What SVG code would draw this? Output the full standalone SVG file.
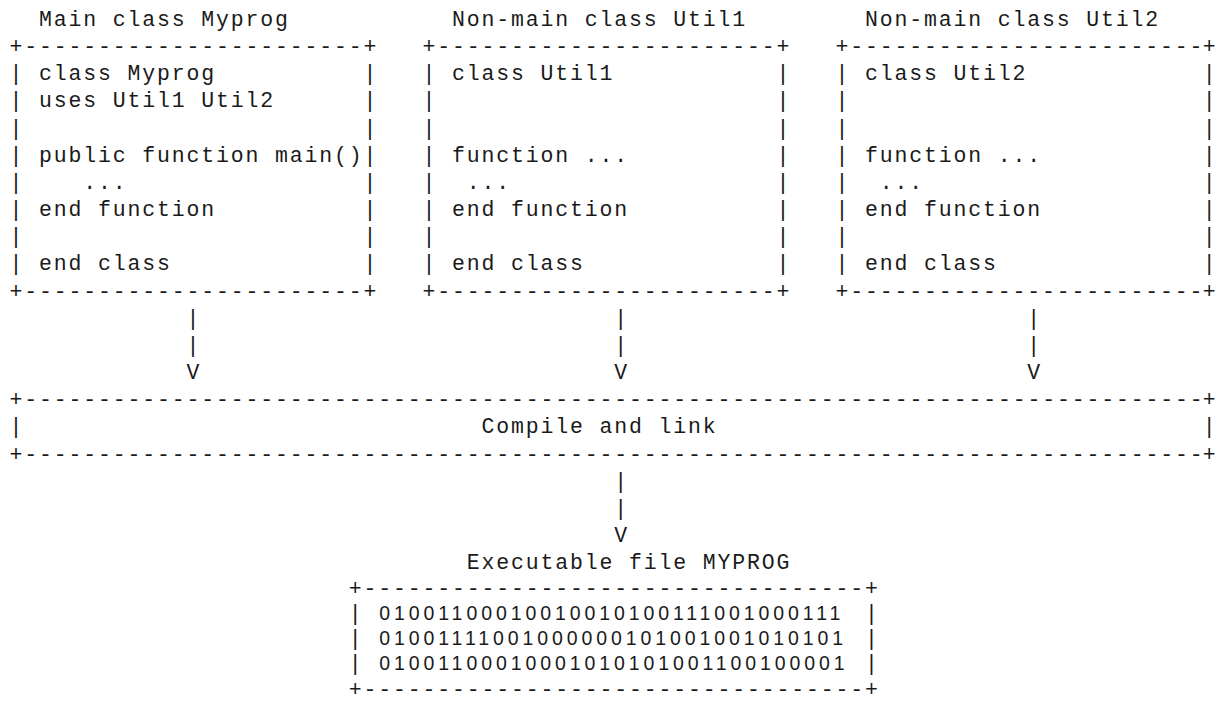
<svg xmlns="http://www.w3.org/2000/svg" width="1216" height="702" viewBox="0 0 1216 702">
  <style>
    /* character grid: 14.75px per column, 27.16px per row */
    .t { font-family: "Liberation Mono", "DejaVu Sans Mono", monospace; font-size: 21.5px; letter-spacing: 1.85px; fill: #1a1a1a; white-space: pre; }
    /* single glyphs on the right margin, no trailing spacing */
    .c { font-family: "Liberation Mono", "DejaVu Sans Mono", monospace; font-size: 21.5px; fill: #1a1a1a; }
    .d { font-family: "Liberation Sans", Arial, sans-serif; font-size: 19.5px; letter-spacing: 3.91px; fill: #1a1a1a; white-space: pre; }
  </style>
  <rect width="1216" height="702" fill="#ffffff"/>

  <!-- Main class box -->
  <g id="node-myprog">
    <text class="t" x="39" y="26">Main class Myprog</text>
    <text class="t" x="9.5" y="53.16">+-----------------------+</text>
    <text class="c">
      <tspan x="9.5" y="80.32">|</tspan><tspan x="363.5" y="80.32">|</tspan>
      <tspan x="9.5" y="107.48">|</tspan><tspan x="363.5" y="107.48">|</tspan>
      <tspan x="9.5" y="134.64">|</tspan><tspan x="363.5" y="134.64">|</tspan>
      <tspan x="9.5" y="161.8">|</tspan><tspan x="363.5" y="161.8">|</tspan>
      <tspan x="9.5" y="188.96">|</tspan><tspan x="363.5" y="188.96">|</tspan>
      <tspan x="9.5" y="216.12">|</tspan><tspan x="363.5" y="216.12">|</tspan>
      <tspan x="9.5" y="243.28">|</tspan><tspan x="363.5" y="243.28">|</tspan>
      <tspan x="9.5" y="270.44">|</tspan><tspan x="363.5" y="270.44">|</tspan>
    </text>
    <text class="t" x="39" y="80.32">class Myprog</text>
    <text class="t" x="39" y="107.48">uses Util1 Util2</text>
    <text class="t" x="39" y="161.8">public function main()</text>
    <text class="t" x="83.25" y="188.96">...</text>
    <text class="t" x="39" y="216.12">end function</text>
    <text class="t" x="39" y="270.44">end class</text>
    <text class="t" x="9.5" y="297.6">+-----------------------+</text>
  </g>

  <!-- Util1 box -->
  <g id="node-util1">
    <text class="t" x="452" y="26">Non-main class Util1</text>
    <text class="t" x="422.5" y="53.16">+-----------------------+</text>
    <text class="c">
      <tspan x="422.5" y="80.32">|</tspan><tspan x="776.5" y="80.32">|</tspan>
      <tspan x="422.5" y="107.48">|</tspan><tspan x="776.5" y="107.48">|</tspan>
      <tspan x="422.5" y="134.64">|</tspan><tspan x="776.5" y="134.64">|</tspan>
      <tspan x="422.5" y="161.8">|</tspan><tspan x="776.5" y="161.8">|</tspan>
      <tspan x="422.5" y="188.96">|</tspan><tspan x="776.5" y="188.96">|</tspan>
      <tspan x="422.5" y="216.12">|</tspan><tspan x="776.5" y="216.12">|</tspan>
      <tspan x="422.5" y="243.28">|</tspan><tspan x="776.5" y="243.28">|</tspan>
      <tspan x="422.5" y="270.44">|</tspan><tspan x="776.5" y="270.44">|</tspan>
    </text>
    <text class="t" x="452" y="80.32">class Util1</text>
    <text class="t" x="452" y="161.8">function ...</text>
    <text class="t" x="466.75" y="188.96">...</text>
    <text class="t" x="452" y="216.12">end function</text>
    <text class="t" x="452" y="270.44">end class</text>
    <text class="t" x="422.5" y="297.6">+-----------------------+</text>
  </g>

  <!-- Util2 box (right edge sits on the page margin) -->
  <g id="node-util2">
    <text class="t" x="865" y="26">Non-main class Util2</text>
    <text class="t" x="835.5" y="53.16">+------------------------</text>
    <text class="c" x="1202.75" y="53.16">+</text>
    <text class="c">
      <tspan x="835.5" y="80.32">|</tspan><tspan x="1202.75" y="80.32">|</tspan>
      <tspan x="835.5" y="107.48">|</tspan><tspan x="1202.75" y="107.48">|</tspan>
      <tspan x="835.5" y="134.64">|</tspan><tspan x="1202.75" y="134.64">|</tspan>
      <tspan x="835.5" y="161.8">|</tspan><tspan x="1202.75" y="161.8">|</tspan>
      <tspan x="835.5" y="188.96">|</tspan><tspan x="1202.75" y="188.96">|</tspan>
      <tspan x="835.5" y="216.12">|</tspan><tspan x="1202.75" y="216.12">|</tspan>
      <tspan x="835.5" y="243.28">|</tspan><tspan x="1202.75" y="243.28">|</tspan>
      <tspan x="835.5" y="270.44">|</tspan><tspan x="1202.75" y="270.44">|</tspan>
    </text>
    <text class="t" x="865" y="80.32">class Util2</text>
    <text class="t" x="865" y="161.8">function ...</text>
    <text class="t" x="879.75" y="188.96">...</text>
    <text class="t" x="865" y="216.12">end function</text>
    <text class="t" x="865" y="270.44">end class</text>
    <text class="t" x="835.5" y="297.6">+------------------------</text>
    <text class="c" x="1202.75" y="297.6">+</text>
  </g>

  <!-- Compile and link stage -->
  <g id="node-compile">
    <text class="t" x="9.5" y="406.24">+--------------------------------------------------------------------------------</text>
    <text class="c" x="1202.75" y="406.24">+</text>
    <text class="c"><tspan x="9.5" y="433.4">|</tspan><tspan x="1202.75" y="433.4">|</tspan></text>
    <text class="t" x="481.5" y="433.4">Compile and link</text>
    <text class="t" x="9.5" y="460.56">+--------------------------------------------------------------------------------</text>
    <text class="c" x="1202.75" y="460.56">+</text>
  </g>

  <!-- Executable output (rows slightly tighter to stay on the page) -->
  <g id="node-executable">
    <text class="t" x="466.75" y="569.2">Executable file MYPROG</text>
    <text class="t" x="348.75" y="594.5">+----------------------------------+</text>
    <text class="c">
      <tspan x="348.75" y="619.7">|</tspan><tspan x="865" y="619.7">|</tspan>
      <tspan x="348.75" y="645">|</tspan><tspan x="865" y="645">|</tspan>
      <tspan x="348.75" y="670.2">|</tspan><tspan x="865" y="670.2">|</tspan>
    </text>
    <text class="d" x="379.3" y="619.7">01001100010010010100111001000111</text>
    <text class="d" x="379.3" y="645">01001111001000000101001001010101</text>
    <text class="d" x="379.3" y="670.2">01001100010001010101001100100001</text>
    <text class="t" x="348.75" y="695.5">+----------------------------------+</text>
  </g>

  <!-- Arrows drawn as | | V -->
  <g id="connectors">
    <text class="c">
      <tspan x="186.5" y="324.76">|</tspan><tspan x="186.5" y="351.92">|</tspan><tspan x="186.5" y="379.08">V</tspan>
      <tspan x="614.25" y="324.76">|</tspan><tspan x="614.25" y="351.92">|</tspan><tspan x="614.25" y="379.08">V</tspan>
      <tspan x="1027.25" y="324.76">|</tspan><tspan x="1027.25" y="351.92">|</tspan><tspan x="1027.25" y="379.08">V</tspan>
      <tspan x="614.25" y="487.72">|</tspan><tspan x="614.25" y="514.88">|</tspan><tspan x="614.25" y="542.04">V</tspan>
    </text>
  </g>
</svg>
